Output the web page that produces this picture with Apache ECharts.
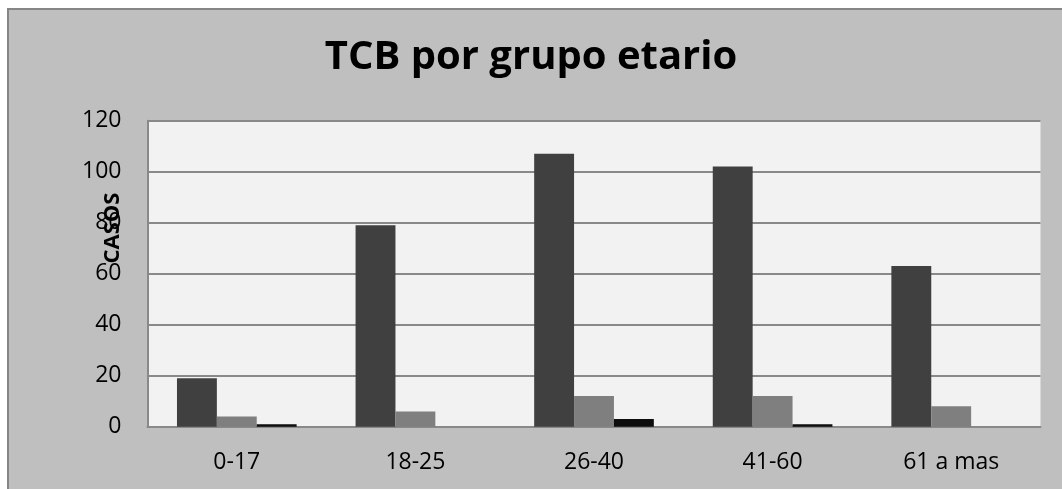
<!DOCTYPE html>
<html>
<head>
<meta charset="utf-8">
<style>
  html, body { margin: 0; padding: 0; background: #ffffff; }
  #chart { width: 1062px; height: 489px; }
</style>
<script src="https://cdn.jsdelivr.net/npm/echarts@6/dist/echarts.min.js"></script>
</head>
<body>
<div id="chart"></div>
<script>
// Age groups and case counts per series
const categories = ['0-17', '18-25', '26-40', '41-60', '61 a mas'];
const serie1 = [19, 79, 107, 102, 63];
const serie2 = [4, 6, 12, 12, 8];
const serie3 = [1, 0, 3, 1, 0];
const yTicks = { min: 0, max: 120, interval: 20 };

const chart = echarts.init(document.getElementById('chart'), null, { renderer: 'canvas' });
const font = '"Open Sans", "Noto Sans", sans-serif';

chart.setOption({
  animation: false,
  backgroundColor: '#ffffff',
  graphic: [
    {
      type: 'rect',
      z: -10,
      silent: true,
      shape: { x: 8, y: 9, width: 1120, height: 560 },
      style: { fill: '#bfbfbf', stroke: '#868686', lineWidth: 2 }
    },
    {
      type: 'text',
      x: 113,
      y: 228,
      rotation: Math.PI / 2,
      style: {
        text: 'CASOS',
        font: 'bold 22px ' + font,
        fill: '#000000',
        align: 'center',
        verticalAlign: 'middle'
      }
    }
  ],
  title: {
    text: 'TCB por grupo etario',
    left: 'center',
    top: 33,
    textStyle: { fontFamily: font, fontWeight: 'bold', fontSize: 40, color: '#000000' }
  },
  grid: {
    left: 147.5,
    right: 21.5,
    top: 120.7,
    bottom: 62.3,
    show: true,
    backgroundColor: '#f2f2f2',
    borderWidth: 0
  },
  xAxis: {
    type: 'category',
    data: categories,
    axisLine: { show: true, lineStyle: { color: '#898989', width: 2 } },
    axisTick: { show: false },
    axisLabel: { color: '#000000', fontFamily: font, fontSize: 23, margin: 24 }
  },
  yAxis: {
    type: 'value',
    min: yTicks.min,
    max: yTicks.max,
    interval: yTicks.interval,
    axisLine: { show: true, lineStyle: { color: '#898989', width: 2 } },
    axisTick: { show: false },
    splitLine: { show: true, lineStyle: { color: '#898989', width: 2 } },
    axisLabel: { color: '#000000', fontFamily: font, fontSize: 23, margin: 26 }
  },
  series: [
    { name: 'Serie 1', type: 'bar', data: serie1, barGap: '0%', barCategoryGap: '33%',
      itemStyle: { color: '#404040' } },
    { name: 'Serie 2', type: 'bar', data: serie2, barGap: '0%', barCategoryGap: '33%',
      itemStyle: { color: '#7f7f7f' } },
    { name: 'Serie 3', type: 'bar', data: serie3, barGap: '0%', barCategoryGap: '33%',
      itemStyle: { color: '#0d0d0d' } }
  ]
});
</script>
</body>
</html>
